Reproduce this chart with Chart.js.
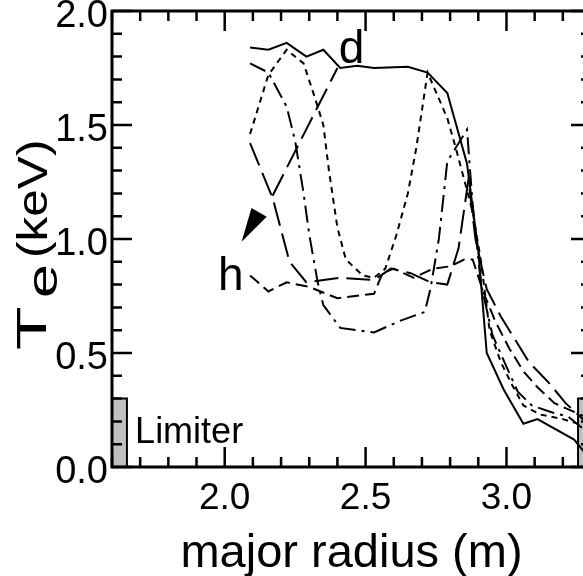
<!DOCTYPE html>
<html lang="en">
<head>
  <meta charset="UTF-8">
  <title>Te profiles vs major radius</title>
  <script src="https://cdn.jsdelivr.net/npm/chart.js@4"></script>
  <style>
    html, body { margin: 0; padding: 0; overflow: hidden; background: #fff; }
    #wrap { width: 600px; height: 576px; }
  </style>
</head>
<body>
<div id="wrap"><canvas id="teChart" width="600" height="576"></canvas></div>
<script>
const FONT = "'Liberation Sans', Arial, Helvetica, sans-serif";

// profile d (solid)
const dR  = [2.09, 2.155, 2.22, 2.29, 2.35, 2.41, 2.47, 2.53, 2.65, 2.72, 2.79, 2.86, 2.88, 2.90, 2.93, 2.99, 3.06, 3.11, 3.24, 3.28];
const dTe = [1.84, 1.83, 1.86, 1.80, 1.83, 1.75, 1.76, 1.75, 1.755, 1.73, 1.64, 1.33, 1.14, 0.95, 0.50, 0.34, 0.19, 0.21, 0.12, 0.06];

// profile e (short dash)
const eR  = [2.09, 2.155, 2.22, 2.28, 2.32, 2.35, 2.37, 2.40, 2.43, 2.49, 2.53, 2.57, 2.61, 2.65, 2.68, 2.72, 2.79, 2.82, 2.88, 2.91, 2.94, 2.98, 3.02, 3.06, 3.12, 3.20, 3.28];
const eTe = [1.46, 1.72, 1.83, 1.77, 1.62, 1.50, 1.30, 1.05, 0.91, 0.84, 0.83, 0.87, 1.02, 1.20, 1.40, 1.73, 1.53, 1.40, 1.12, 0.90, 0.60, 0.46, 0.36, 0.27, 0.23, 0.21, 0.18];

// profile f (dash-dot)
const fR  = [2.09, 2.155, 2.22, 2.25, 2.28, 2.30, 2.33, 2.35, 2.41, 2.53, 2.62, 2.71, 2.73, 2.76, 2.79, 2.82, 2.86, 2.88, 2.91, 2.95, 3.00, 3.04, 3.09, 3.16, 3.22, 3.28];
const fTe = [1.77, 1.73, 1.58, 1.43, 1.20, 1.02, 0.81, 0.71, 0.61, 0.59, 0.64, 0.68, 0.78, 1.00, 1.34, 1.40, 1.48, 1.15, 0.80, 0.58, 0.44, 0.33, 0.27, 0.24, 0.22, 0.16];

// profile g (long dash)
const gR  = [2.09, 2.17, 2.23, 2.29, 2.41, 2.53, 2.59, 2.66, 2.73, 2.79, 2.83, 2.865, 2.89, 2.93, 2.98, 3.02, 3.08, 3.15, 3.21, 3.28];
const gTe = [1.42, 1.18, 0.90, 0.81, 0.83, 0.82, 0.87, 0.85, 0.81, 0.80, 0.96, 1.26, 1.00, 0.78, 0.66, 0.58, 0.46, 0.37, 0.28, 0.20];
const g2R  = [2.17, 2.40];
const g2Te = [1.19, 1.75];

// profile h (medium dash)
const hR  = [2.09, 2.155, 2.22, 2.30, 2.40, 2.53, 2.56, 2.60, 2.67, 2.74, 2.80, 2.85, 2.88, 2.92, 2.96, 3.01, 3.06, 3.11, 3.17, 3.28];
const hTe = [0.84, 0.77, 0.81, 0.79, 0.74, 0.76, 0.85, 0.87, 0.83, 0.87, 0.88, 0.91, 0.91, 0.76, 0.64, 0.52, 0.42, 0.35, 0.28, 0.22];

// limiters
const limLeftR  = [1.60, 1.653];
const limRightR = [3.254, 3.31];
const limTop = 0.30;

// axes
const xTicks = [2.0, 2.5, 3.0];
const yTicks = [0.0, 0.5, 1.0, 1.5, 2.0];

// annotations (data coords)
const dLabel = [2.405, 1.772];
const hLabel = [1.976, 0.776];
const limLabel = [1.682, 0.105];
const arrowPts = [[2.060, 0.988], [2.095, 1.136], [2.149, 1.098]];

const toPts = (xs, ys) => xs.map((r, i) => ({ x: r, y: ys[i] }));

function profile(xs, ys, dash) {
  return {
    data: toPts(xs, ys),
    showLine: true,
    borderColor: '#000',
    borderWidth: 2,
    borderDash: dash,
    pointRadius: 0,
    fill: false,
    order: 0
  };
}

// draw a piece of text squeezed/stretched along its baseline
function stretchText(ctx, txt, x, y, size, sx) {
  ctx.save();
  ctx.translate(x, y);
  ctx.scale(sx, 1);
  ctx.font = `${size}px ${FONT}`;
  ctx.fillText(txt, 0, 0);
  ctx.restore();
}

const decor = {
  id: 'decor',
  afterDatasetsDraw(chart) {
    const { ctx, chartArea: a, scales: { x, y } } = chart;
    ctx.save();
    ctx.strokeStyle = '#000';
    ctx.fillStyle = '#000';

    // inward ticks on all sides
    ctx.lineWidth = 2.5;
    ctx.beginPath();
    for (let i = 16; i <= 33; i++) {
      const px = x.getPixelForValue(i / 10);
      const len = i % 5 === 0 ? 20 : 10;
      ctx.moveTo(px, a.bottom); ctx.lineTo(px, a.bottom - len);
      ctx.moveTo(px, a.top); ctx.lineTo(px, a.top + len);
    }
    for (let i = 0; i <= 20; i++) {
      const py = y.getPixelForValue(i / 10);
      const len = i % 5 === 0 ? 20 : 10;
      ctx.moveTo(a.left, py); ctx.lineTo(a.left + len, py);
      ctx.moveTo(a.right, py); ctx.lineTo(a.right - len, py);
    }
    ctx.stroke();

    ctx.lineWidth = 3;
    ctx.strokeRect(a.left, a.top, a.right - a.left, a.bottom - a.top);

    // arrow head
    ctx.beginPath();
    arrowPts.forEach((p, i) => {
      const px = x.getPixelForValue(p[0]), py = y.getPixelForValue(p[1]);
      if (i === 0) ctx.moveTo(px, py); else ctx.lineTo(px, py);
    });
    ctx.closePath();
    ctx.fill();

    // text labels
    ctx.textAlign = 'left';
    ctx.textBaseline = 'alphabetic';
    ctx.font = `46px ${FONT}`;
    ctx.fillText('d', x.getPixelForValue(dLabel[0]), y.getPixelForValue(dLabel[1]));
    ctx.fillText('h', x.getPixelForValue(hLabel[0]), y.getPixelForValue(hLabel[1]));
    ctx.font = `36px ${FONT}`;
    ctx.fillText('Limiter', x.getPixelForValue(limLabel[0]), y.getPixelForValue(limLabel[1]));
    ctx.restore();
  },
  afterDraw(chart) {
    // y title: T_e (keV), rotated
    const ctx = chart.ctx;
    ctx.save();
    ctx.fillStyle = '#000';
    ctx.textBaseline = 'alphabetic';
    ctx.translate(46, 350);
    ctx.rotate(-Math.PI / 2);
    stretchText(ctx, 'T', 0, 0, 42, 1.7);
    stretchText(ctx, 'e', 52, 11, 42, 1.45);
    stretchText(ctx, '(keV)', 92, 1, 42, 1.18);
    ctx.restore();
  }
};

const ctx = document.getElementById('teChart').getContext('2d');
const teChart = new Chart(ctx, {
  type: 'scatter',
  data: {
    datasets: [
      profile(dR, dTe, []),
      profile(eR, eTe, [6, 5]),
      profile(fR, fTe, [17, 6, 3, 6]),
      profile(gR, gTe, [24, 8]),
      profile(g2R, g2Te, [24, 8]),
      profile(hR, hTe, [12, 6]),
      {
        data: [{ x: limLeftR[0], y: limTop }, { x: limLeftR[1], y: limTop }, { x: limLeftR[1], y: 0 }],
        showLine: true, fill: 'origin', backgroundColor: '#c0c0c0',
        borderColor: '#000', borderWidth: 2, pointRadius: 0, order: 5
      },
      {
        data: [{ x: limRightR[0], y: 0 }, { x: limRightR[0], y: limTop }, { x: limRightR[1], y: limTop }],
        showLine: true, fill: 'origin', backgroundColor: '#c0c0c0',
        borderColor: '#000', borderWidth: 2, pointRadius: 0, order: 5
      }
    ]
  },
  options: {
    responsive: false,
    animation: false,
    layout: { padding: { left: 0, top: 11, right: 9, bottom: 0 } },
    plugins: { legend: { display: false }, tooltip: { enabled: false } },
    scales: {
      x: {
        type: 'linear',
        min: 1.6,
        max: 3.3,
        grid: { display: false, drawTicks: false },
        border: { display: false },
        afterBuildTicks: (s) => { s.ticks = xTicks.map(v => ({ value: v })); },
        afterFit: (s) => { s.height = 109; s.paddingLeft = 0; s.paddingRight = 0; },
        ticks: {
          color: '#000', font: { family: FONT, size: 37 }, padding: 10,
          maxRotation: 0, autoSkip: false, callback: (v) => Number(v).toFixed(1)
        },
        title: {
          display: true, text: 'major radius (m)', color: '#000',
          font: { family: FONT, size: 47 }, padding: { top: 0, bottom: -6 }
        }
      },
      y: {
        type: 'linear',
        min: 0,
        max: 2,
        grid: { display: false, drawTicks: false },
        border: { display: false },
        afterBuildTicks: (s) => { s.ticks = yTicks.map(v => ({ value: v })); },
        afterFit: (s) => { s.width = 112; s.paddingTop = 0; s.paddingBottom = 0; },
        ticks: {
          color: '#000', font: { family: FONT, size: 38 }, padding: 4, labelOffset: 6,
          callback: (v) => Number(v).toFixed(1)
        }
      }
    }
  },
  plugins: [decor]
});
</script>
</body>
</html>
